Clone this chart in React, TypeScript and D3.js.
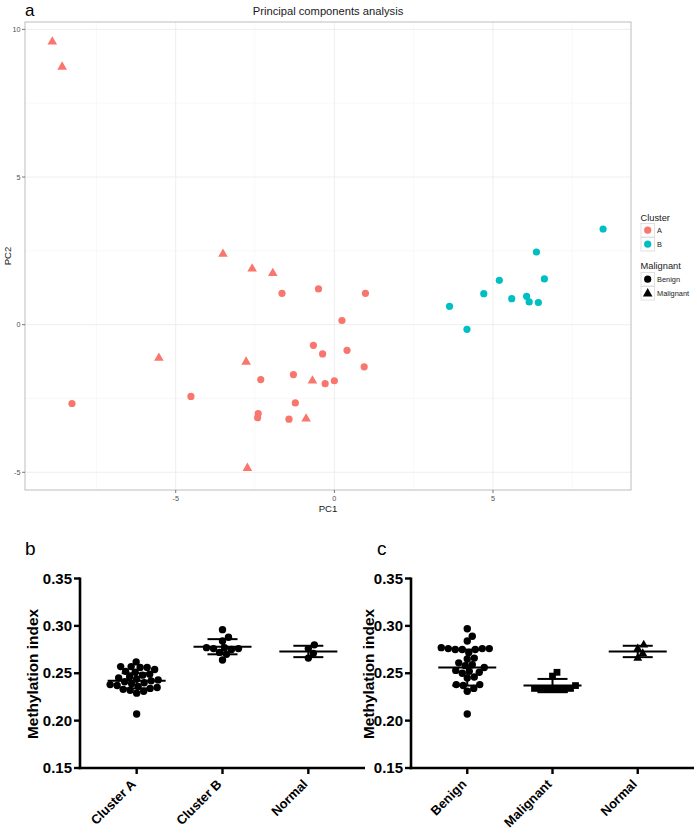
import React from 'react';
import * as d3 from 'd3';

// ---------- Panel a: PCA ----------
const pcaPC1 = [
  -1.65, -0.5, 0.24, 0.98, -0.66, -0.37, 0.4, 0.94, -2.32, -1.29, -0.29, 0.0, -8.27, -4.52, -1.23, -2.4, -2.42, -1.43,
  -8.89, -8.58, -3.51, -2.59, -1.94, -5.53, -2.78, -0.69, -0.89, -2.74,
  8.47, 6.37, 5.2, 6.62, 4.71, 5.59, 6.06, 6.14, 6.43, 3.63, 4.18,
];
const pcaPC2 = [
  1.06, 1.21, 0.14, 1.06, -0.7, -0.99, -0.87, -1.43, -1.86, -1.69, -2.0, -1.9, -2.67, -2.43, -2.65, -3.01, -3.15, -3.2,
  9.58, 8.73, 2.39, 1.89, 1.74, -1.13, -1.26, -1.9, -3.19, -4.86,
  3.24, 2.46, 1.5, 1.55, 1.05, 0.88, 0.96, 0.77, 0.75, 0.62, -0.16,
];
const pcaCluster = [
  'A', 'A', 'A', 'A', 'A', 'A', 'A', 'A', 'A', 'A', 'A', 'A', 'A', 'A', 'A', 'A', 'A', 'A',
  'A', 'A', 'A', 'A', 'A', 'A', 'A', 'A', 'A', 'A',
  'B', 'B', 'B', 'B', 'B', 'B', 'B', 'B', 'B', 'B', 'B',
];
const pcaType = [
  'Benign', 'Benign', 'Benign', 'Benign', 'Benign', 'Benign', 'Benign', 'Benign', 'Benign', 'Benign', 'Benign', 'Benign', 'Benign', 'Benign', 'Benign', 'Benign', 'Benign', 'Benign',
  'Malignant', 'Malignant', 'Malignant', 'Malignant', 'Malignant', 'Malignant', 'Malignant', 'Malignant', 'Malignant', 'Malignant',
  'Benign', 'Benign', 'Benign', 'Benign', 'Benign', 'Benign', 'Benign', 'Benign', 'Benign', 'Benign', 'Benign',
];
const pcaXTicks = [-5, 0, 5];
const pcaXMinor = [-7.5, -2.5, 2.5, 7.5];
const pcaYTicks = [-5, 0, 5, 10];
const pcaYMinor = [-2.5, 2.5, 7.5];
const clusterLevels = ['A', 'B'];
const typeLevels = ['Benign', 'Malignant'];

// ---------- Panels b & c ----------
const methTicks = [0.15, 0.2, 0.25, 0.3, 0.35];

const catsB = ['Cluster A', 'Cluster B', 'Normal'];
const clusterAVals = [
  0.262, 0.257, 0.257, 0.256, 0.256, 0.254, 0.252, 0.251, 0.249, 0.248, 0.246, 0.245, 0.244, 0.243,
  0.242, 0.241, 0.24, 0.239, 0.238, 0.237, 0.236, 0.235, 0.234, 0.233, 0.232, 0.231, 0.229, 0.207,
];
const clusterBVals = [0.296, 0.288, 0.284, 0.277, 0.277, 0.276, 0.276, 0.275, 0.272, 0.27, 0.264];
const normalValsB = [0.28, 0.276, 0.271, 0.266];
const meansB = [0.242, 0.278, 0.273];
const sdsB = [0.008, 0.008, 0.006];

const catsC = ['Benign', 'Malignant', 'Normal'];
const benignVals = [
  0.297, 0.289, 0.284, 0.277, 0.276, 0.276, 0.276, 0.275, 0.275, 0.275, 0.272, 0.266, 0.265, 0.261, 0.259,
  0.258, 0.256, 0.253, 0.252, 0.251, 0.25, 0.246, 0.245, 0.238, 0.238, 0.237, 0.234, 0.231, 0.207,
];
const malignantVals = [0.251, 0.247, 0.237, 0.234, 0.234, 0.234, 0.233, 0.233, 0.233, 0.233];
const normalValsC = [0.28, 0.276, 0.271, 0.266];
const meansC = [0.256, 0.237, 0.273];
const sdsC = [0.019, 0.007, 0.006];

const FONT = 'Liberation Sans, Arial, Helvetica, sans-serif';
const RED = '#F8766D';
const TEAL = '#00BFC4';

function swarm(vals: number[], y: (v: number) => number, d: number): number[] {
  const order = vals.map((_, i) => i).sort((a, b) => vals[a] - vals[b]);
  const placed: { x: number; y: number }[] = [];
  const out: number[] = new Array(vals.length).fill(0);
  for (const i of order) {
    const py = y(vals[i]);
    let best = 0;
    for (let k = 0; k < 400; k++) {
      const off = k === 0 ? 0 : (k % 2 === 1 ? 1 : -1) * Math.ceil(k / 2) * 0.5;
      if (placed.every((p) => Math.hypot(p.x - off, p.y - py) >= d)) {
        best = off;
        break;
      }
    }
    placed.push({ x: best, y: py });
    out[i] = best;
  }
  return out;
}

function PcaPanel() {
  const x = d3.scaleLinear().domain([-9.75, 9.35]).range([25, 631]);
  const y = d3.scaleLinear().domain([-5.6, 10.25]).range([490, 22]);
  const color = d3.scaleOrdinal<string, string>().domain(clusterLevels).range([RED, TEAL]);
  const tri = d3.symbol().type(d3.symbolTriangle).size(40)()!;
  const triKey = d3.symbol().type(d3.symbolTriangle).size(40)()!;
  const [x0, x1] = x.range();
  const [y0, y1] = y.range();
  return (
    <g>
      <text x={25} y={15.5} fontFamily={FONT} fontSize={17}>a</text>
      <text x={(x0 + x1) / 2} y={14.5} textAnchor="middle" fontFamily={FONT} fontSize={11.2} fill="#1a1a1a">
        Principal components analysis
      </text>
      <rect x={x0} y={y1} width={x1 - x0} height={y0 - y1} fill="#fff" />
      {pcaXMinor.map((t) => (
        <line key={'xm' + t} x1={x(t)} x2={x(t)} y1={y1} y2={y0} stroke="#f4f4f4" strokeWidth={0.6} />
      ))}
      {pcaYMinor.map((t) => (
        <line key={'ym' + t} x1={x0} x2={x1} y1={y(t)} y2={y(t)} stroke="#f4f4f4" strokeWidth={0.6} />
      ))}
      {pcaXTicks.map((t) => (
        <line key={'xg' + t} x1={x(t)} x2={x(t)} y1={y1} y2={y0} stroke="#ececec" strokeWidth={0.9} />
      ))}
      {pcaYTicks.map((t) => (
        <line key={'yg' + t} x1={x0} x2={x1} y1={y(t)} y2={y(t)} stroke="#ececec" strokeWidth={0.9} />
      ))}
      {pcaPC1.map((v, i) =>
        pcaType[i] === 'Benign' ? (
          <circle key={'p' + i} cx={x(v)} cy={y(pcaPC2[i])} r={3.6} fill={color(pcaCluster[i])} />
        ) : (
          <path key={'p' + i} d={tri} transform={`translate(${x(v)},${y(pcaPC2[i])})`} fill={color(pcaCluster[i])} />
        )
      )}
      <rect x={x0} y={y1} width={x1 - x0} height={y0 - y1} fill="none" stroke="#bdbdbd" strokeWidth={1} />
      {pcaXTicks.map((t) => (
        <g key={'xt' + t}>
          <line x1={x(t)} x2={x(t)} y1={y0} y2={y0 + 3} stroke="#555" strokeWidth={0.8} />
          <text x={x(t)} y={y0 + 11} textAnchor="middle" fontFamily={FONT} fontSize={7.2} fill="#4d4d4d">
            {t}
          </text>
        </g>
      ))}
      {pcaYTicks.map((t) => (
        <g key={'yt' + t}>
          <line x1={x0 - 3} x2={x0} y1={y(t)} y2={y(t)} stroke="#555" strokeWidth={0.8} />
          <text x={x0 - 4.5} y={y(t) + 2.5} textAnchor="end" fontFamily={FONT} fontSize={7.2} fill="#4d4d4d">
            {t}
          </text>
        </g>
      ))}
      <text x={(x0 + x1) / 2} y={y0 + 21.5} textAnchor="middle" fontFamily={FONT} fontSize={9.6} fill="#1a1a1a">
        PC1
      </text>
      <text
        transform={`translate(${11},${(y0 + y1) / 2}) rotate(-90)`}
        textAnchor="middle"
        fontFamily={FONT}
        fontSize={9.6}
        fill="#1a1a1a"
      >
        PC2
      </text>
      {/* Legend */}
      <g transform="translate(640.5,0)">
        <text x={0} y={221} fontFamily={FONT} fontSize={9.3} fill="#1a1a1a">Cluster</text>
        {clusterLevels.map((c, i) => (
          <g key={'lc' + c} transform={`translate(0,${223 + i * 14})`}>
            <rect x={0.5} y={0.5} width={13.5} height={13.5} fill="#fff" stroke="#d9d9d9" strokeWidth={0.8} />
            <circle cx={7.2} cy={7.2} r={3.6} fill={color(c)} />
            <text x={16.5} y={10} fontFamily={FONT} fontSize={7.4} fill="#1a1a1a">{c}</text>
          </g>
        ))}
        <text x={0} y={269} fontFamily={FONT} fontSize={9.3} fill="#1a1a1a">Malignant</text>
        {typeLevels.map((c, i) => (
          <g key={'lt' + c} transform={`translate(0,${272 + i * 14})`}>
            <rect x={0.5} y={0.5} width={13.5} height={13.5} fill="#fff" stroke="#d9d9d9" strokeWidth={0.8} />
            {c === 'Benign' ? (
              <circle cx={7.2} cy={7.2} r={3.6} fill="#000" />
            ) : (
              <path d={triKey} transform="translate(7.2,7.6)" fill="#000" />
            )}
            <text x={16.5} y={10} fontFamily={FONT} fontSize={7.4} fill="#1a1a1a">{c}</text>
          </g>
        ))}
      </g>
    </g>
  );
}

interface DotPanelProps {
  label: string;
  labelX: number;
  axisX: number;
  endX: number;
  cats: string[];
  groups: number[][];
  shapes: string[];
  means: number[];
  sds: number[];
  titleX: number;
}

function DotPanel({ label, labelX, axisX, endX, cats, groups, shapes, means, sds, titleX }: DotPanelProps) {
  const y = d3.scaleLinear().domain([0.15, 0.35]).range([768, 578.5]);
  const x = d3.scalePoint<string>().domain(cats).range([axisX, endX]).padding(0.66);
  const baseY = y(0.15);
  const sq = d3.symbol().type(d3.symbolSquare).size(46)()!;
  const tri = d3.symbol().type(d3.symbolTriangle).size(34)()!;
  return (
    <g>
      <text x={labelX} y={555} fontFamily={FONT} fontSize={19}>{label}</text>
      {groups.map((vals, gi) => {
        const cx = x(cats[gi])!;
        const offs = swarm(vals, (v) => y(v), shapes[gi] === 'square' ? 5.6 : 6.8);
        return (
          <g key={'g' + gi}>
            {vals.map((v, i) =>
              shapes[gi] === 'circle' ? (
                <circle key={i} cx={cx + offs[i]} cy={y(v)} r={3.7} fill="#000" />
              ) : shapes[gi] === 'square' ? (
                <path key={i} d={sq} transform={`translate(${cx + offs[i]},${y(v)})`} fill="#000" />
              ) : (
                <path key={i} d={tri} transform={`translate(${cx + offs[i]},${y(v)})`} fill="#000" />
              )
            )}
            <line x1={cx - 29} x2={cx + 29} y1={y(means[gi])} y2={y(means[gi])} stroke="#000" strokeWidth={2} />
            <line x1={cx} x2={cx} y1={y(means[gi] - sds[gi])} y2={y(means[gi] + sds[gi])} stroke="#000" strokeWidth={2} />
            <line x1={cx - 15} x2={cx + 15} y1={y(means[gi] + sds[gi])} y2={y(means[gi] + sds[gi])} stroke="#000" strokeWidth={2} />
            <line x1={cx - 15} x2={cx + 15} y1={y(means[gi] - sds[gi])} y2={y(means[gi] - sds[gi])} stroke="#000" strokeWidth={2} />
          </g>
        );
      })}
      <line x1={axisX} x2={axisX} y1={y(0.35) - 1} y2={baseY + 1.2} stroke="#000" strokeWidth={2.6} />
      <line x1={axisX - 1.2} x2={endX} y1={baseY} y2={baseY} stroke="#000" strokeWidth={2.6} />
      {methTicks.map((t) => (
        <g key={'t' + t}>
          <line x1={axisX - 6} x2={axisX} y1={y(t)} y2={y(t)} stroke="#000" strokeWidth={2.4} />
          <text x={axisX - 8} y={y(t) + 5.2} textAnchor="end" fontFamily={FONT} fontWeight="bold" fontSize={15}>
            {d3.format('.2f')(t)}
          </text>
        </g>
      ))}
      {cats.map((c) => (
        <g key={'c' + c}>
          <line x1={x(c)!} x2={x(c)!} y1={baseY} y2={baseY + 6} stroke="#000" strokeWidth={2.4} />
          <text
            transform={`translate(${x(c)!},${baseY + 17}) rotate(-45)`}
            textAnchor="end"
            fontFamily={FONT}
            fontWeight="bold"
            fontSize={13}
          >
            {c}
          </text>
        </g>
      ))}
      <text
        transform={`translate(${titleX},${674}) rotate(-90)`}
        textAnchor="middle"
        fontFamily={FONT}
        fontWeight="bold"
        fontSize={15.4}
      >
        Methylation index
      </text>
    </g>
  );
}

export default function App() {
  return (
    <svg width={697} height={833} style={{ position: 'absolute', left: 0, top: 0, background: '#fff' }}>
      <rect width={697} height={833} fill="#fff" />
      <PcaPanel />
      <DotPanel
        label="b"
        labelX={25}
        axisX={80}
        endX={365}
        cats={catsB}
        groups={[clusterAVals, clusterBVals, normalValsB]}
        shapes={['circle', 'circle', 'circle']}
        means={meansB}
        sds={sdsB}
        titleX={38}
      />
      <DotPanel
        label="c"
        labelX={377}
        axisX={411}
        endX={694}
        cats={catsC}
        groups={[benignVals, malignantVals, normalValsC]}
        shapes={['circle', 'square', 'triangle']}
        means={meansC}
        sds={sdsC}
        titleX={374}
      />
    </svg>
  );
}
